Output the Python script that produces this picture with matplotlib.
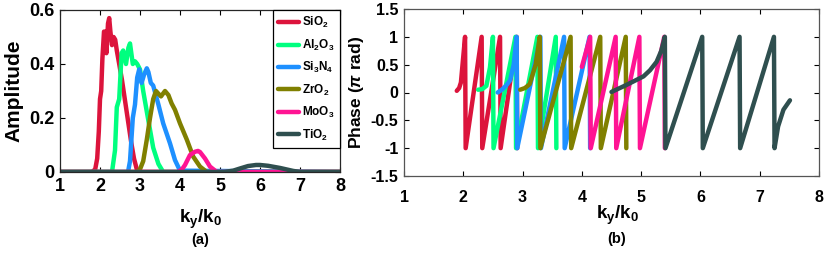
import matplotlib
matplotlib.use("Agg")
import matplotlib.pyplot as plt

plt.rcParams['font.family'] = ['Liberation Sans', 'DejaVu Sans']
plt.rcParams['font.weight'] = 'bold'
plt.rcParams['mathtext.fontset'] = 'custom'
plt.rcParams['mathtext.rm'] = 'Liberation Sans:bold'
plt.rcParams['mathtext.bf'] = 'Liberation Sans:bold'
plt.rcParams['mathtext.it'] = 'Liberation Sans:italic'

materials = ['SiO$_\\mathbf{2}$', 'Al$_\\mathbf{2}$O$_\\mathbf{3}$', 'Si$_\\mathbf{3}$N$_\\mathbf{4}$',
             'ZrO$_\\mathbf{2}$', 'MoO$_\\mathbf{3}$', 'TiO$_\\mathbf{2}$']
colors = ['#DC143C', '#00FF7F', '#1E90FF', '#808000', '#FF1493', '#2F4F4F']

# ---- Amplitude data (panel a) ----
sio2_x = [1.0, 1.80, 1.88, 1.93, 1.97, 2.00, 2.03, 2.06, 2.10, 2.13, 2.16, 2.20, 2.23, 2.26, 2.30, 2.34,
          2.38, 2.42, 2.48, 2.55, 2.62, 2.70, 2.78, 2.85, 2.92, 3.0, 8.0]
sio2_y = [0, 0, 0.01, 0.05, 0.15, 0.27, 0.30, 0.42, 0.52, 0.52, 0.44, 0.55, 0.57, 0.52, 0.47, 0.50,
          0.49, 0.45, 0.40, 0.34, 0.27, 0.19, 0.11, 0.05, 0.01, 0, 0]
al2o3_x = [1.0, 2.30, 2.375, 2.42, 2.48, 2.54, 2.58, 2.65, 2.71, 2.75, 2.82, 2.875, 2.93, 3.0, 3.08,
           3.21, 3.33, 3.46, 3.58, 8.0]
al2o3_y = [0, 0, 0.08, 0.24, 0.27, 0.44, 0.45, 0.40, 0.46, 0.476, 0.40, 0.41, 0.40, 0.38, 0.30,
           0.19, 0.09, 0.03, 0, 0]
si3n4_x = [1.0, 2.70, 2.75, 2.82, 2.875, 2.93, 2.98, 3.04, 3.10, 3.17, 3.21, 3.27, 3.33, 3.46, 3.58,
           3.75, 3.875, 4.0, 8.0]
si3n4_y = [0, 0, 0.04, 0.20, 0.25, 0.35, 0.38, 0.33, 0.36, 0.384, 0.37, 0.33, 0.32, 0.25, 0.18,
           0.106, 0.044, 0.005, 0]
zro2_x = [1.0, 2.92, 3.0, 3.08, 3.17, 3.25, 3.33, 3.40, 3.46, 3.525, 3.625, 3.71, 3.79, 3.875, 4.0,
          4.17, 4.33, 4.5, 4.67, 8.0]
zro2_y = [0, 0, 0.01, 0.04, 0.12, 0.20, 0.27, 0.30, 0.29, 0.28, 0.30, 0.285, 0.254, 0.23, 0.18,
          0.12, 0.057, 0.02, 0, 0]
moo3_x = [1.0, 3.95, 4.05, 4.125, 4.25, 4.375, 4.45, 4.5, 4.625, 4.75, 4.92, 8.0]
moo3_y = [0, 0, 0.01, 0.026, 0.063, 0.075, 0.078, 0.074, 0.05, 0.02, 0, 0]
tio2_x = [1.0, 5.10, 5.33, 5.5, 5.7, 5.9, 6.0, 6.2, 6.5, 6.83, 7.0, 8.0]
tio2_y = [0, 0, 0.005, 0.013, 0.022, 0.026, 0.026, 0.023, 0.015, 0.004, 0, 0]

# ---- Phase data (panel b), units of pi rad ----
sio2_px = [1.89, 1.93, 1.96, 2.03, 2.04, 2.31, 2.32, 2.62, 2.63, 2.90, 2.91]
sio2_py = [0.03, 0.08, 0.18, 1.0, -1.0, 1.0, -1.0, 1.0, -1.0, 1.0, -1.0]
al2o3_px = [2.25, 2.32, 2.39, 2.45, 2.50, 2.51, 2.88, 2.89, 3.25, 3.26, 3.56, 3.57]
al2o3_py = [0.05, 0.06, 0.12, 0.45, 1.0, -1.0, 1.0, -1.0, 1.0, -1.0, 1.0, -1.0]
si3n4_px = [2.58, 2.65, 2.72, 2.79, 2.85, 2.90, 2.91, 3.30, 3.31, 3.70, 3.71, 4.13, 4.14]
si3n4_py = [0.0, 0.05, 0.12, 0.22, 0.5, 1.0, -1.0, 1.0, -1.0, 1.0, -1.0, 1.0, -1.0]
zro2_px = [2.96, 3.04, 3.12, 3.22, 3.29, 3.30, 3.81, 3.82, 4.31, 4.32, 4.74, 4.75]
zro2_py = [0.05, 0.08, 0.15, 0.5, 1.0, -1.0, 1.0, -1.0, 1.0, -1.0, 1.0, -1.0]
moo3_px = [4.00, 4.14, 4.15, 4.57, 4.58, 4.97, 4.98, 5.39, 5.40]
moo3_py = [0.46, 1.0, -1.0, 1.0, -1.0, 1.0, -1.0, 1.0, -1.0]
tio2_px = [4.50, 4.76, 5.04, 5.15, 5.26, 5.34, 5.40, 5.41, 6.03, 6.04, 6.66, 6.67, 7.24, 7.25,
           7.31, 7.40, 7.51]
tio2_py = [0.01, 0.14, 0.29, 0.40, 0.55, 0.75, 1.0, -1.0, 1.0, -1.0, 1.0, -1.0, 1.0, -1.0,
           -0.61, -0.31, -0.14]

amp = [(sio2_x, sio2_y), (al2o3_x, al2o3_y), (si3n4_x, si3n4_y),
       (zro2_x, zro2_y), (moo3_x, moo3_y), (tio2_x, tio2_y)]
phase = [(sio2_px, sio2_py), (al2o3_px, al2o3_py), (si3n4_px, si3n4_py),
         (zro2_px, zro2_py), (moo3_px, moo3_py), (tio2_px, tio2_py)]

x_ticks = [1, 2, 3, 4, 5, 6, 7, 8]
amp_ticks = [0, 0.2, 0.4, 0.6]
amp_labels = ['0', '0.2', '0.4', '0.6']
ph_ticks = [-1.5, -1, -0.5, 0, 0.5, 1, 1.5]
ph_labels = ['-1.5', '-1', '-0.5', '0', '0.5', '1', '1.5']

fig = plt.figure(figsize=(8.3, 2.54), dpi=100)
W, H = 830, 254
axa = fig.add_axes([60 / W, (H - 172) / H, 280 / W, 162 / H])
axb = fig.add_axes([404 / W, (H - 176) / H, 415 / W, 167 / H])

lw = 3.2
for (x, y), c, lab in zip(amp, colors, materials):
    axa.plot(x, y, color=c, lw=lw, label=lab, solid_joinstyle='round', solid_capstyle='round')
for (x, y), c in zip(phase, colors):
    axb.plot(x, y, color=c, lw=lw, solid_joinstyle='round', solid_capstyle='round')

for ax in (axa, axb):
    ax.set_xlim(1, 8)
    ax.set_xticks(x_ticks)
    ax.tick_params(direction='in', top=True, right=True, length=3.5, width=0.8, pad=4)
axa.set_ylim(0, 0.6)
axa.set_yticks(amp_ticks)
axa.set_yticklabels(amp_labels)
axb.set_ylim(-1.5, 1.5)
axb.set_yticks(ph_ticks)
axb.set_yticklabels(ph_labels)

for lab in axa.get_xticklabels() + axa.get_yticklabels():
    lab.set_fontsize(13)
    lab.set_fontweight('bold')
for lab in axb.get_xticklabels() + axb.get_yticklabels():
    lab.set_fontsize(11.5)
    lab.set_fontweight('bold')
axb.tick_params(axis='x', pad=10)

for sp in axa.spines.values():
    sp.set_color('#262626'); sp.set_linewidth(0.9)
for sp in axb.spines.values():
    sp.set_color('#555555'); sp.set_linewidth(0.9)

axa.set_ylabel('Amplitude', fontsize=15, fontweight='bold', labelpad=4)
axb.set_ylabel('Phase ($\\pi$ rad)', fontsize=12.5, fontweight='bold', labelpad=3)

fig.text(200 / W, 1 - 219 / H, 'k$_\\mathbf{y}$/k$_\\mathbf{0}$', fontsize=13.5, fontweight='bold',
         ha='center', va='center')
fig.text(200 / W, 1 - 240 / H, '(a)', fontsize=10.5, fontweight='bold', ha='center', va='center')
fig.text(617 / W, 1 - 215 / H, 'k$_\\mathbf{y}$/k$_\\mathbf{0}$', fontsize=13.5, fontweight='bold',
         ha='center', va='center')
fig.text(617 / W, 1 - 239 / H, '(b)', fontsize=10.5, fontweight='bold', ha='center', va='center')

leg = axa.legend(loc='upper right', bbox_to_anchor=(1.0, 1.0), borderaxespad=0,
                 prop={'size': 8.5, 'weight': 'bold'}, handlelength=1.8, handletextpad=0.25,
                 labelspacing=0.62, borderpad=0.45, fancybox=False, framealpha=1)
leg.get_frame().set_edgecolor('#000000')
leg.get_frame().set_linewidth(0.9)

fig.savefig('out.png', dpi=100)
